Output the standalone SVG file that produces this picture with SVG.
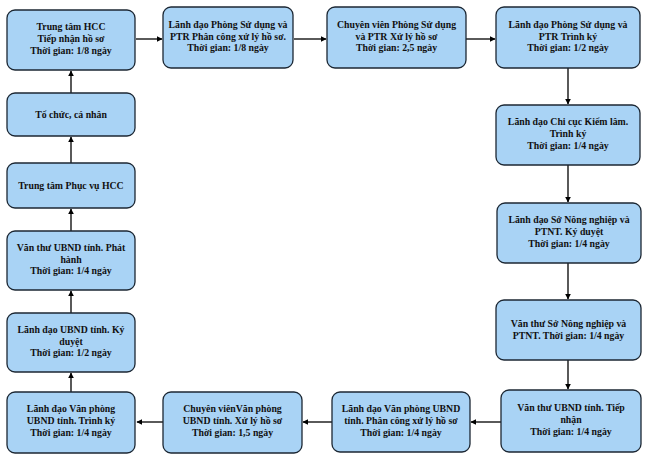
<svg xmlns="http://www.w3.org/2000/svg" width="646" height="462" viewBox="0 0 646 462">
<defs>
<style>
.n rect{fill:#a9d3f5;stroke:#1c2733;stroke-width:1.3}
.n text{font-family:"Liberation Serif","Times New Roman",serif;font-size:9.8px;font-weight:bold;fill:#111;text-anchor:middle}
.c path{stroke:#000;stroke-width:1.3;fill:none;marker-end:url(#a)}
</style>
<marker id="a" viewBox="0 0 10 10" refX="9" refY="5" markerWidth="6" markerHeight="6" markerUnits="userSpaceOnUse" orient="auto"><path d="M0,0L10,5L0,10z" fill="#000"/></marker>
</defs>
<rect width="646" height="462" fill="#fff"/>
<g class="c">
<path d="M136,39H162"/>
<path d="M294,39H326"/>
<path d="M466,39H495"/>
<path d="M568,68V104"/>
<path d="M568,165V202"/>
<path d="M568,263V299"/>
<path d="M568,360V389"/>
<path d="M501,422H471"/>
<path d="M332,422H303"/>
<path d="M163,422H137"/>
<path d="M71,392V373"/>
<path d="M71,313V291"/>
<path d="M71,231V209"/>
<path d="M71,163V137"/>
<path d="M71,93V71"/>
</g>
<g id="n1" class="n"><rect x="7" y="10" width="128" height="60" rx="8"/><text x="71" y="30.2">Trung tâm HCC</text><text x="71" y="42">Tiếp nhận hồ sơ</text><text x="71" y="53.8">Thời gian: 1/8 ngày</text></g>
<g id="n2" class="n"><rect x="163" y="7" width="130" height="61" rx="8"/><text x="228" y="27.7">Lãnh đạo Phòng Sử dụng và</text><text x="228" y="39.5">PTR Phân công xử lý hồ sơ.</text><text x="228" y="51.3">Thời gian: 1/8 ngày</text></g>
<g id="n3" class="n"><rect x="327" y="7" width="139" height="61" rx="8"/><text x="396.5" y="27.7">Chuyên viên Phòng Sử dụng</text><text x="396.5" y="39.5">và PTR Xử lý hồ sơ</text><text x="396.5" y="51.3">Thời gian: 2,5 ngày</text></g>
<g id="n4" class="n"><rect x="496" y="7" width="144" height="61" rx="8"/><text x="568" y="27.7">Lãnh đạo Phòng Sử dụng và</text><text x="568" y="39.5">PTR Trình ký</text><text x="568" y="51.3">Thời gian: 1/2 ngày</text></g>
<g id="n5" class="n"><rect x="496" y="105" width="144" height="60" rx="8"/><text x="568" y="125.2">Lãnh đạo Chi cục Kiểm lâm.</text><text x="568" y="137">Trình ký</text><text x="568" y="148.8">Thời gian: 1/4 ngày</text></g>
<g id="n6" class="n"><rect x="497" y="203" width="144" height="60" rx="8"/><text x="569" y="223.2">Lãnh đạo Sở Nông nghiệp và</text><text x="569" y="235">PTNT. Ký duyệt</text><text x="569" y="246.8">Thời gian: 1/4 ngày</text></g>
<g id="n7" class="n"><rect x="496" y="300" width="145" height="60" rx="8"/><text x="568.5" y="327.3">Văn thư Sở Nông nghiệp và</text><text x="568.5" y="339.1">PTNT. Thời gian: 1/4 ngày</text></g>
<g id="n8" class="n"><rect x="501" y="390" width="140" height="62" rx="8"/><text x="571" y="411.2">Văn thư UBND tỉnh. Tiếp</text><text x="571" y="423">nhận</text><text x="571" y="434.8">Thời gian: 1/4 ngày</text></g>
<g id="n9" class="n"><rect x="332" y="392" width="138" height="60" rx="8"/><text x="401" y="412.2">Lãnh đạo Văn phòng UBND</text><text x="401" y="424">tỉnh. Phân công xử lý hồ sơ</text><text x="401" y="435.8">Thời gian: 1/4 ngày</text></g>
<g id="n10" class="n"><rect x="163" y="392" width="139" height="61" rx="8"/><text x="232.5" y="412.2">Chuyên viênVăn phòng</text><text x="232.5" y="424">UBND tỉnh. Xử lý hồ sơ</text><text x="232.5" y="435.8">Thời gian: 1,5 ngày</text></g>
<g id="n11" class="n"><rect x="7" y="392" width="128" height="61" rx="8"/><text x="71" y="412.2">Lãnh đạo Văn phòng</text><text x="71" y="424">UBND tỉnh. Trình ký</text><text x="71" y="435.8">Thời gian: 1/4 ngày</text></g>
<g id="n12" class="n"><rect x="7" y="313" width="128" height="59" rx="8"/><text x="71" y="332.7">Lãnh đạo UBND tỉnh. Ký</text><text x="71" y="344.5">duyệt</text><text x="71" y="356.3">Thời gian: 1/2 ngày</text></g>
<g id="n13" class="n"><rect x="7" y="231" width="128" height="59" rx="8"/><text x="71" y="250.7">Văn thư UBND tỉnh. Phát</text><text x="71" y="262.5">hành</text><text x="71" y="274.3">Thời gian: 1/4 ngày</text></g>
<g id="n14" class="n"><rect x="7" y="163" width="128" height="45" rx="8"/><text x="71" y="189">Trung tâm Phục vụ HCC</text></g>
<g id="n15" class="n"><rect x="7" y="93" width="128" height="43" rx="8"/><text x="71" y="118">Tổ chức, cá nhân</text></g>
</svg>
